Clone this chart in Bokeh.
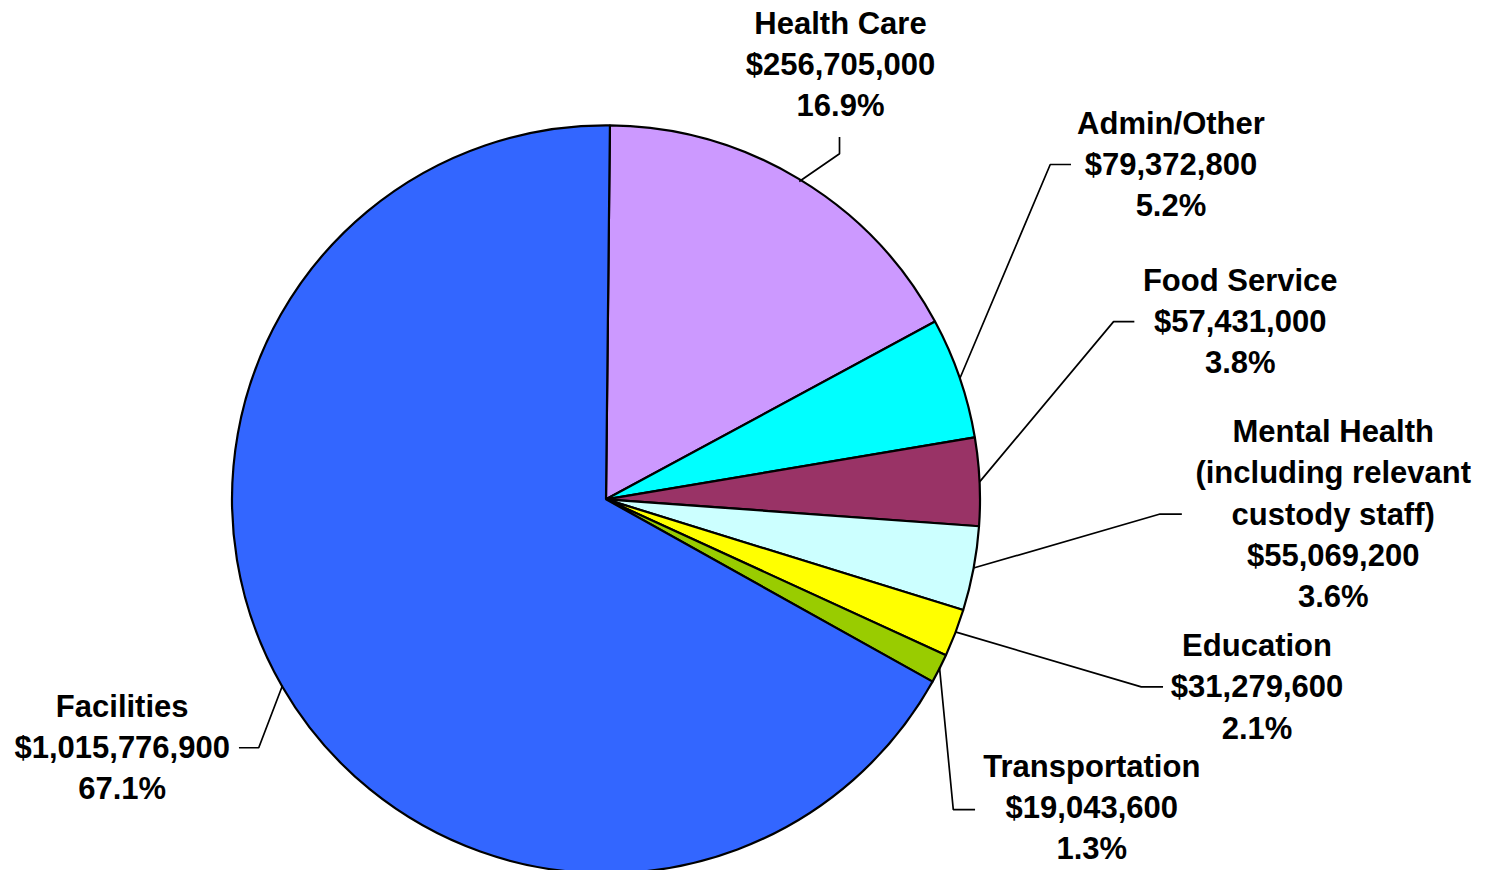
import math
from bokeh.plotting import figure
from bokeh.models import Range1d, ColumnDataSource
from bokeh.core.properties import value
from bokeh.embed import file_html
from bokeh.resources import INLINE

# ---- data (clockwise from 12 o'clock) ----
categories = ["Health Care", "Admin/Other", "Food Service",
              "Mental Health\n(including relevant\ncustody staff)",
              "Education", "Transportation", "Facilities"]
amounts = [256705000, 79372800, 57431000, 55069200, 31279600, 19043600, 1015776900]
colors = ["#CC99FF", "#00FFFF", "#993366", "#CCFFFF", "#FFFF00", "#99CC00", "#3366FF"]

# ---- layout (reference image pixel coordinates, 1509 x 886) ----
W, H = 1493, 870
REF_W, REF_H = 1509, 886
CX, CY, R = 612, 508, 378
START_OFFSET_DEG = 0.6
LINE_H = 42
FONT = "Liberation Sans"
FONT_SIZE = "31px"
# label block centre (x, y of middle line)
label_pos = [(849, 65), (1183, 167), (1253, 327), (1347, 523), (1270, 699), (1103, 822), (123, 761)]
# leader elbows: points after the anchor on the pie edge
leader_pts = [
    [(848, 156), (848, 139)],
    [(1061, 167), (1082, 167)],
    [(1125, 327), (1146, 327)],
    [(1172, 523), (1194, 523)],
    [(1153, 699), (1175, 699)],
    [(963, 824), (985, 824)],
    [(261, 761), (241, 761)],
]


def Y(img_y):
    return REF_H - img_y


total = float(sum(amounts))
fracs = [a / total for a in amounts]

p = figure(width=W, height=H, output_backend="svg", toolbar_location=None,
           x_range=Range1d(0, REF_W), y_range=Range1d(0, REF_H),
           min_border=0, outline_line_color=None)
p.axis.visible = False
p.grid.visible = False
p.background_fill_color = "white"
p.border_fill_color = "white"

# wedges
starts, ends, mids = [], [], []
cum = 0.0
off = math.radians(START_OFFSET_DEG)
for f in fracs:
    a0 = math.pi / 2 - off - cum * 2 * math.pi
    cum += f
    a1 = math.pi / 2 - off - cum * 2 * math.pi
    starts.append(a0)
    ends.append(a1)
    mids.append((a0 + a1) / 2)

src = ColumnDataSource(dict(x=[CX] * len(amounts), y=[Y(CY)] * len(amounts),
                            start=starts, end=ends, color=colors))
p.wedge(x="x", y="y", radius=R, start_angle="start", end_angle="end",
        direction="clock", fill_color="color", line_color="black",
        line_width=2.2, source=src)

# leader lines
xs, ys = [], []
for m, pts in zip(mids, leader_pts):
    ax = CX + R * math.cos(m)
    ay = Y(CY) + R * math.sin(m)
    xs.append([ax] + [q[0] for q in pts])
    ys.append([ay] + [Y(q[1]) for q in pts])
p.multi_line(xs=xs, ys=ys, line_color="black", line_width=1.7)

# labels
tx, ty, tt = [], [], []
for cat, amt, fr, (lx, ly) in zip(categories, amounts, fracs, label_pos):
    lines = cat.split("\n") + ["${:,}".format(amt), "{:.1f}%".format(fr * 100)]
    n = len(lines)
    for i, s in enumerate(lines):
        tx.append(lx)
        ty.append(Y(ly + (i - (n - 1) / 2) * LINE_H))
        tt.append(s)

p.text(x=tx, y=ty, text=tt, text_font=value(FONT), text_font_size=FONT_SIZE,
       text_font_style="bold", text_align="center", text_baseline="middle",
       text_color="black")

open("out.html", "w").write(file_html(p, INLINE))
